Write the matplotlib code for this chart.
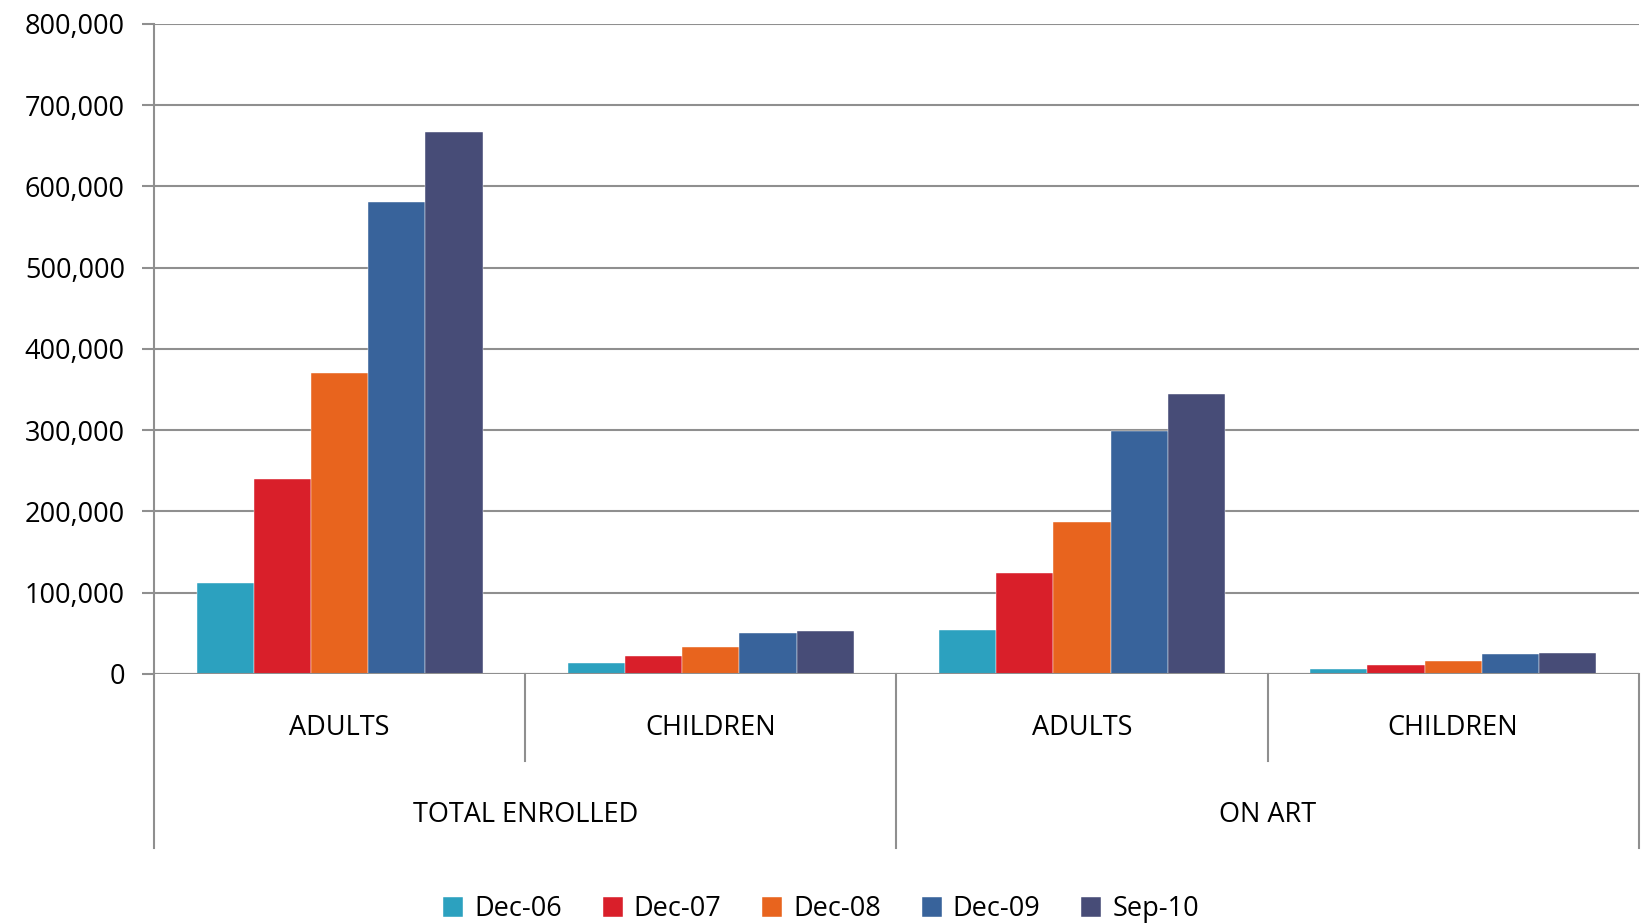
import matplotlib
matplotlib.use("Agg")
import matplotlib.pyplot as plt
import matplotlib.transforms as mtransforms
from matplotlib.ticker import FuncFormatter
import numpy as np

# data
sub_labels = ["ADULTS", "CHILDREN", "ADULTS", "CHILDREN"]
group_labels = ["TOTAL ENROLLED", "ON ART"]
series_names = ["Dec-06", "Dec-07", "Dec-08", "Dec-09", "Sep-10"]
dec06 = [112000, 13000, 54000, 6000]
dec07 = [240000, 22000, 124000, 11000]
dec08 = [370000, 33500, 187000, 15500]
dec09 = [581000, 50000, 299000, 24500]
sep10 = [667000, 53000, 344000, 26000]
colors = ["#2CA1BF", "#D91F2A", "#E8641E", "#38639B", "#474C77"]

plt.rcParams['font.family'] = ['Open Sans', 'DejaVu Sans']
grey = "#8f8f8f"
fs = 19.5

fig = plt.figure(figsize=(16.42, 9.23), dpi=100)
ax = fig.add_axes([0.0938, 0.270, 0.9042, 0.704])

x = np.arange(len(sub_labels))
w = 0.154
all_series = [dec06, dec07, dec08, dec09, sep10]
for i, (vals, c, name) in enumerate(zip(all_series, colors, series_names)):
    ax.bar(x + (i - 2) * w, vals, width=w, color=c, label=name, zorder=3,
           edgecolor="white", linewidth=0.3)

ax.set_xlim(-0.5, 3.5)
ax.set_ylim(0, 800000)
ax.set_yticks(np.arange(0, 800001, 100000))
ax.yaxis.set_major_formatter(FuncFormatter(lambda v, p: f"{int(v):,}"))
ax.tick_params(axis='y', length=9, width=1.5, color=grey, labelsize=fs, pad=12)
ax.tick_params(axis='x', length=0, labelbottom=False)
ax.grid(axis='y', color=grey, linewidth=1.5, zorder=0)
for s in ["top", "right", "bottom"]:
    ax.spines[s].set_visible(False)
ax.spines["left"].set_color(grey)
ax.spines["left"].set_linewidth(1.5)
ax.axhline(0, color=grey, linewidth=1.5, zorder=4)

# multi level category axis
trans = mtransforms.blended_transform_factory(ax.transData, ax.transAxes)
for xi, lab in zip(x, sub_labels):
    ax.text(xi, -0.083, lab, transform=trans, ha='center', va='center', fontsize=fs)
for b in [0.5, 2.5]:
    ax.plot([b, b], [0, -0.134], transform=trans, color=grey, lw=1.5, clip_on=False)
for b in [-0.5, 1.5, 3.5]:
    ax.plot([b, b], [0, -0.268], transform=trans, color=grey, lw=1.5, clip_on=False)
for gi, lab in enumerate(group_labels):
    ax.text(gi * 2 + 0.5, -0.217, lab, transform=trans, ha='center', va='center', fontsize=fs)

fig.legend(loc='center', bbox_to_anchor=(0.5, 0.015), ncol=5, frameon=False,
           fontsize=fs, handlelength=0.75, handleheight=0.75, handletextpad=0.4,
           columnspacing=1.5)

fig.savefig("out.png", dpi=100)
